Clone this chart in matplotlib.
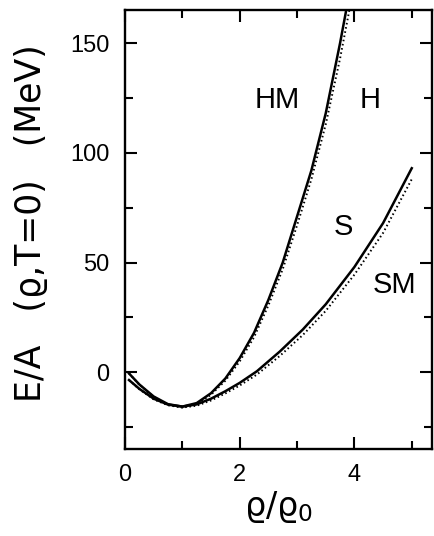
import numpy as np
import matplotlib.pyplot as plt

# densities (rho/rho0) and energies per nucleon (MeV)
rho_h = [0.07, 0.25, 0.5, 0.75, 1.0, 1.25, 1.5, 1.75, 2.0, 2.25, 2.5, 2.75, 3.0, 3.25, 3.5, 3.75, 4.0]
e_h = [-0.5, -5.5, -11.0, -14.5, -15.6, -14.0, -9.5, -2.8, 6.5, 18.0, 33.0, 50.0, 71.0, 92.0, 118.0, 150.0, 185.0]
e_hm = [-0.5, -5.6, -11.2, -14.8, -16.0, -14.5, -10.2, -3.8, 5.0, 16.0, 30.5, 47.0, 67.0, 88.0, 113.0, 143.0, 177.0]

rho_s = [0.07, 0.25, 0.5, 0.75, 1.0, 1.25, 1.5, 1.75, 2.0, 2.3, 2.7, 3.1, 3.5, 4.0, 4.5, 5.0]
e_s = [-3.5, -7.5, -12.0, -14.7, -15.6, -14.6, -12.0, -8.6, -4.8, 0.5, 9.5, 19.5, 31.0, 48.0, 68.0, 93.0]
e_sm = [-3.5, -7.7, -12.3, -15.0, -16.0, -15.2, -12.8, -9.6, -6.0, -1.0, 7.5, 17.0, 28.0, 44.5, 63.5, 88.0]

x_major = [0, 2, 4]
y_major = [0, 50, 100, 150]

plt.rcParams['font.family'] = ['Liberation Sans', 'DejaVu Sans']

fig = plt.figure(figsize=(4.34, 5.36), dpi=100)
ax = fig.add_axes([0.288, 0.162, 0.707, 0.819])

ax.plot(rho_h, e_h, 'k-', lw=1.8)
ax.plot(rho_h, e_hm, color='k', lw=1.4, ls=(0, (0.8, 1.4)))
ax.plot(rho_s, e_s, 'k-', lw=1.8)
ax.plot(rho_s, e_sm, color='k', lw=1.4, ls=(0, (0.8, 1.4)))

ax.text(2.66, 124, 'HM', fontsize=21, ha='center', va='center')
ax.text(4.27, 124, 'H', fontsize=21, ha='center', va='center')
ax.text(3.8, 66, 'S', fontsize=21, ha='center', va='center')
ax.text(4.7, 40, 'SM', fontsize=21, ha='center', va='center')

ax.set_xlim(0, 5.35)
ax.set_ylim(-35, 165)
ax.set_xticks(x_major)
ax.set_xticks([1, 3, 5], minor=True)
ax.set_yticks(y_major)
ax.set_yticks([-25, 25, 75, 125], minor=True)
ax.tick_params(which='both', direction='in', top=True, right=True, width=1.5,
               labelsize=17, pad=11)
ax.tick_params(which='major', length=8.5)
ax.tick_params(which='minor', length=6)
for s in ax.spines.values():
    s.set_linewidth(1.7)

ax.set_xlabel('$\\mathregular{ϱ/ϱ_0}$', fontsize=24, family=['DejaVu Sans'], labelpad=2)
ax.set_ylabel('E/A   (ϱ,T=0)   (MeV)', fontsize=25, family=['DejaVu Sans'])
ax.yaxis.set_label_coords(-0.25, 0.515)

fig.savefig('out.png', dpi=100)
